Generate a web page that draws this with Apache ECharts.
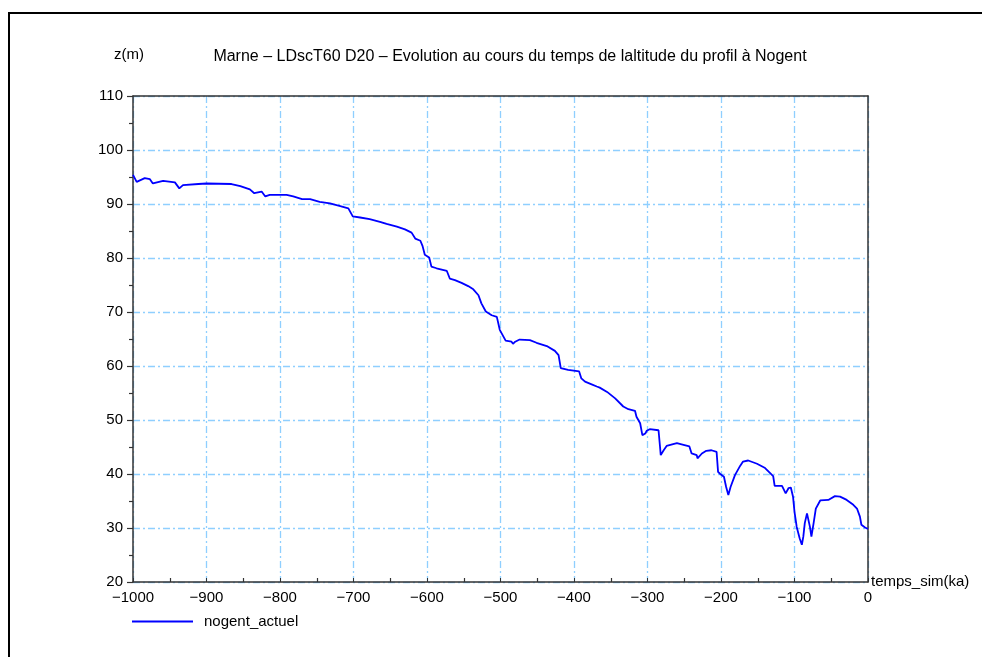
<!DOCTYPE html>
<html>
<head>
<meta charset="utf-8">
<script src="https://cdn.jsdelivr.net/npm/echarts@6/dist/echarts.min.js"></script>
<style>
html,body{margin:0;padding:0;background:#fff;}
#chart{width:982px;height:657px;}
</style>
</head>
<body>
<div id="chart"></div>
<script>
// Time (ka) and altitude (m)
const times = [-1000,-995,-984,-977,-973,-959,-943,-937,-932,-911,-900,-866,-854,-841,-835,-825,-820,-814,-791,-782,-770,-759,-746,-732,-718,-707,-701,-691,-678,-664,-655,-641,-630,-621,-616,-609,-606,-603,-597,-594,-587,-573,-569,-562,-553,-544,-537,-530,-526,-520,-512,-505,-501,-493,-485,-483,-480,-474,-460,-451,-437,-426,-421,-418,-408,-393,-390,-385,-376,-369,-365,-355,-344,-333,-326,-317,-315,-310,-307,-303,-301,-297,-285,-283,-282,-278,-274,-260,-251,-243,-240,-233,-232,-226,-220,-213,-206,-204,-201,-196,-193,-190,-187,-181,-174,-170,-163,-151,-140,-129,-127,-117,-112,-108,-105,-102,-100,-97,-93,-90,-88,-86,-83,-81,-79,-77,-74,-71,-65,-54,-45,-38,-29,-20,-15,-11,-9,-4,0];
const altitudes = [95.4,94.1,94.8,94.6,93.8,94.3,94.0,92.9,93.5,93.7,93.8,93.7,93.3,92.7,92.0,92.3,91.4,91.7,91.7,91.4,90.9,90.9,90.4,90.1,89.6,89.2,87.7,87.5,87.2,86.7,86.3,85.8,85.3,84.7,83.6,83.2,82.2,80.6,80.1,78.4,78.1,77.6,76.2,75.9,75.4,74.8,74.2,73.1,71.6,70.1,69.4,69.1,66.7,64.7,64.5,64.1,64.5,64.9,64.8,64.3,63.7,62.8,62.0,59.6,59.3,59.0,57.7,57.1,56.6,56.2,56.0,55.2,54.0,52.5,52.0,51.7,50.6,49.4,47.2,47.5,48.0,48.3,48.1,45.1,43.5,44.4,45.2,45.7,45.4,45.1,43.8,43.5,42.9,43.8,44.3,44.4,44.1,40.4,40.0,39.5,37.6,36.1,37.6,39.8,41.5,42.3,42.5,41.9,41.1,39.6,37.8,37.8,36.4,37.4,37.5,35.8,33.0,30.2,28.1,26.9,28.4,30.9,32.7,32.8,30.2,28.4,30.9,33.6,35.1,35.2,35.9,35.8,35.2,34.3,33.6,32.1,30.6,30.1,29.8];
const seriesName = 'nogent_actuel';
const titleText = 'Marne – LDscT60 D20 – Evolution au cours du temps de laltitude du profil à Nogent';
const xName = 'temps_sim(ka)';
const yName = 'z(m)';

const font = '"Liberation Sans", Arial, sans-serif';
const gridStyle = {color: '#8fcfff', width: 1.3, type: [7, 3, 2, 3]};
const axisLineStyle = {color: '#333', width: 1.5};
const fmt = v => String(v).replace('-', '\u2212');

const chart = echarts.init(document.getElementById('chart'), null, {renderer: 'canvas'});
chart.setOption({
  animation: false,
  backgroundColor: '#fff',
  textStyle: {fontFamily: font, color: '#000'},
  title: {
    text: titleText,
    left: 505, top: 44, textAlign: 'center',
    textStyle: {fontSize: 16, fontWeight: 'normal', color: '#000', fontFamily: font}
  },
  legend: {
    left: 127, top: 609,
    itemWidth: 61, itemHeight: 2,
    icon: 'rect',
    textStyle: {fontSize: 15, color: '#000', fontFamily: font, padding: [0, 0, 0, 6]},
    data: [seriesName]
  },
  grid: {left: 133, top: 96, width: 735, height: 486, containLabel: false},
  xAxis: [{
    type: 'value', min: -1000, max: 0, interval: 100,
    position: 'bottom',
    name: xName, nameLocation: 'end', nameGap: 3,
    nameTextStyle: {fontSize: 15, color: '#000', align: 'left', verticalAlign: 'middle', fontFamily: font},
    axisLine: {show: true, onZero: false, lineStyle: axisLineStyle},
    axisTick: {show: true, inside: true, length: 4, lineStyle: {color: '#333'}},
    minorTick: {show: true, splitNumber: 2, length: 4, lineStyle: {color: '#333', width: 1.2}},
    axisLabel: {fontSize: 15, color: '#000', margin: 8, fontFamily: font, formatter: fmt},
    splitLine: {show: true, lineStyle: gridStyle}
  }, {
    type: 'value', min: -1000, max: 0, interval: 100, position: 'top',
    axisLine: {show: true, onZero: false, lineStyle: axisLineStyle},
    axisTick: {show: false}, axisLabel: {show: false}, splitLine: {show: false}
  }],
  yAxis: [{
    type: 'value', min: 20, max: 110, interval: 10,
    position: 'left',
    name: yName, nameLocation: 'end', nameGap: 34,
    nameTextStyle: {fontSize: 15, color: '#000', align: 'center', padding: [0, 8, 0, 0], fontFamily: font},
    axisLine: {show: true, onZero: false, lineStyle: axisLineStyle},
    axisTick: {show: true, length: 6, lineStyle: {color: '#333', width: 1.2}},
    minorTick: {show: true, splitNumber: 2, length: 4, lineStyle: {color: '#333', width: 1.2}},
    axisLabel: {fontSize: 15, color: '#000', margin: 10, fontFamily: font},
    splitLine: {show: true, lineStyle: gridStyle}
  }, {
    type: 'value', min: 20, max: 110, interval: 10, position: 'right',
    axisLine: {show: true, onZero: false, lineStyle: axisLineStyle},
    axisTick: {show: false}, axisLabel: {show: false}, splitLine: {show: false}
  }],
  series: [{
    name: seriesName,
    type: 'line',
    xAxisIndex: 0, yAxisIndex: 0,
    data: times.map((t, i) => [t, altitudes[i]]),
    symbol: 'none',
    lineStyle: {color: '#0000ff', width: 1.8},
    itemStyle: {color: '#0000ff'}
  }],
  graphic: [
    {type: 'rect', shape: {x: 8, y: 12, width: 974, height: 2}, style: {fill: '#000'}, silent: true},
    {type: 'rect', shape: {x: 8, y: 12, width: 2, height: 645}, style: {fill: '#000'}, silent: true}
  ]
});
</script>
</body>
</html>
